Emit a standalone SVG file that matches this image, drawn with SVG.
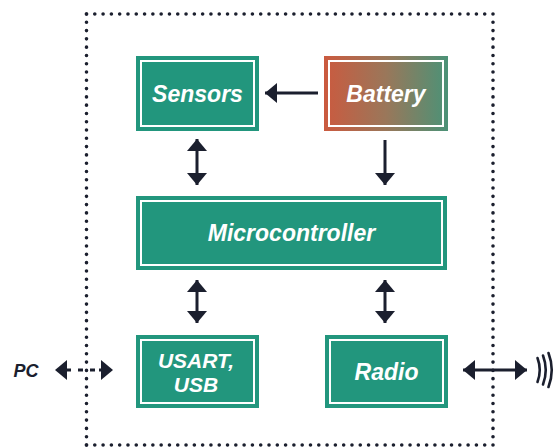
<svg xmlns="http://www.w3.org/2000/svg" width="555" height="448" viewBox="0 0 555 448">
  <style>
    .box { fill: #22967d; }
    .inner { fill: none; stroke: #ffffff; stroke-width: 2; }
    .label { font-family: "Liberation Sans", Arial, sans-serif; font-weight: bold; font-style: italic; font-size: 23px; fill: #ffffff; text-anchor: middle; }
    .stack { font-size: 21px; }
    .ext { font-family: "Liberation Sans", Arial, sans-serif; font-weight: bold; font-style: italic; font-size: 18px; fill: #1b1f2e; text-anchor: middle; }
    .dots { stroke: #1b1f2e; stroke-width: 3.6; stroke-linecap: round; fill: none; }
    .wire { stroke: #1b1f2e; stroke-width: 3; fill: none; }
    .head { fill: #1b1f2e; }
    .wave { stroke: #1b1f2e; stroke-width: 2.6; fill: none; stroke-linecap: round; }
  </style>
  <defs>
    <linearGradient id="batteryFill" x1="0" y1="0" x2="1" y2="0">
      <stop offset="0" stop-color="#cb5a3f"/>
      <stop offset="0.5" stop-color="#9a775a"/>
      <stop offset="1" stop-color="#4b9277"/>
    </linearGradient>
    <marker id="tip" viewBox="0 0 12 20" refX="12" refY="10" markerWidth="12" markerHeight="20" markerUnits="userSpaceOnUse" orient="auto-start-reverse">
      <path d="M0,0 L12,10 L0,20 Z" class="head"/>
    </marker>
  </defs>

  <!-- device boundary -->
  <g id="boundary">
    <line class="dots" x1="86.5" y1="14" x2="493" y2="14" stroke-dasharray="0 8.296"/>
    <line class="dots" x1="86.5" y1="445" x2="493" y2="445" stroke-dasharray="0 8.296"/>
    <line class="dots" x1="86.5" y1="14" x2="86.5" y2="445" stroke-dasharray="0 8.288"/>
    <line class="dots" x1="493" y1="14" x2="493" y2="445" stroke-dasharray="0 8.288"/>
  </g>

  <g id="sensors">
    <rect class="box" x="136" y="56" width="123" height="75"/>
    <rect class="inner" x="141" y="61" width="113" height="65"/>
    <text class="label" x="197.5" y="102">Sensors</text>
  </g>

  <g id="battery">
    <rect x="324" y="56" width="124" height="75" fill="url(#batteryFill)"/>
    <rect class="inner" x="329" y="61" width="114" height="65"/>
    <text class="label" x="386" y="102">Battery</text>
  </g>

  <g id="microcontroller">
    <rect class="box" x="136" y="196" width="311" height="74"/>
    <rect class="inner" x="141" y="201" width="301" height="64"/>
    <text class="label" x="291.5" y="241">Microcontroller</text>
  </g>

  <g id="usart">
    <rect class="box" x="136" y="335" width="123" height="73"/>
    <rect class="inner" x="141" y="340" width="113" height="63"/>
    <text class="label stack" x="196" y="368">USART,</text>
    <text class="label stack" x="196" y="392">USB</text>
  </g>

  <g id="radio">
    <rect class="box" x="325" y="335" width="123" height="73"/>
    <rect class="inner" x="330" y="340" width="113" height="63"/>
    <text class="label" x="386.5" y="380">Radio</text>
  </g>

  <g id="pc">
    <text class="ext" x="26" y="377">PC</text>
  </g>

  <g id="antenna">
    <path class="wave" d="M537.5,358 Q542,370 537.5,382"/>
    <path class="wave" d="M543,355.5 Q548.5,370 543,384.5"/>
    <path class="wave" d="M548.5,353 Q555,370 548.5,387"/>
  </g>

  <g id="connectors">
    <!-- battery to sensors -->
    <line class="wire" x1="318" y1="93" x2="265" y2="93" marker-end="url(#tip)"/>
    <!-- sensors to microcontroller -->
    <line class="wire" x1="197" y1="139" x2="197" y2="185" marker-start="url(#tip)" marker-end="url(#tip)"/>
    <!-- battery to microcontroller -->
    <line class="wire" x1="385" y1="140" x2="385" y2="185" marker-end="url(#tip)"/>
    <!-- microcontroller to usart -->
    <line class="wire" x1="197" y1="280" x2="197" y2="323" marker-start="url(#tip)" marker-end="url(#tip)"/>
    <!-- microcontroller to radio -->
    <line class="wire" x1="385" y1="280" x2="385" y2="323" marker-start="url(#tip)" marker-end="url(#tip)"/>
    <!-- radio to air -->
    <line class="wire" x1="463" y1="370" x2="527" y2="370" marker-start="url(#tip)" marker-end="url(#tip)"/>
    <!-- pc to usart (dashed) -->
    <polygon class="head" points="55,370 67,360 67,380"/>
    <line class="wire" x1="66" y1="370" x2="71" y2="370"/>
    <line class="wire" x1="78" y1="370" x2="83" y2="370"/>
    <line class="wire" x1="90" y1="370" x2="95" y2="370"/>
    <line class="wire" x1="99" y1="370" x2="102" y2="370"/>
    <polygon class="head" points="113,370 101,360 101,380"/>
  </g>
</svg>
